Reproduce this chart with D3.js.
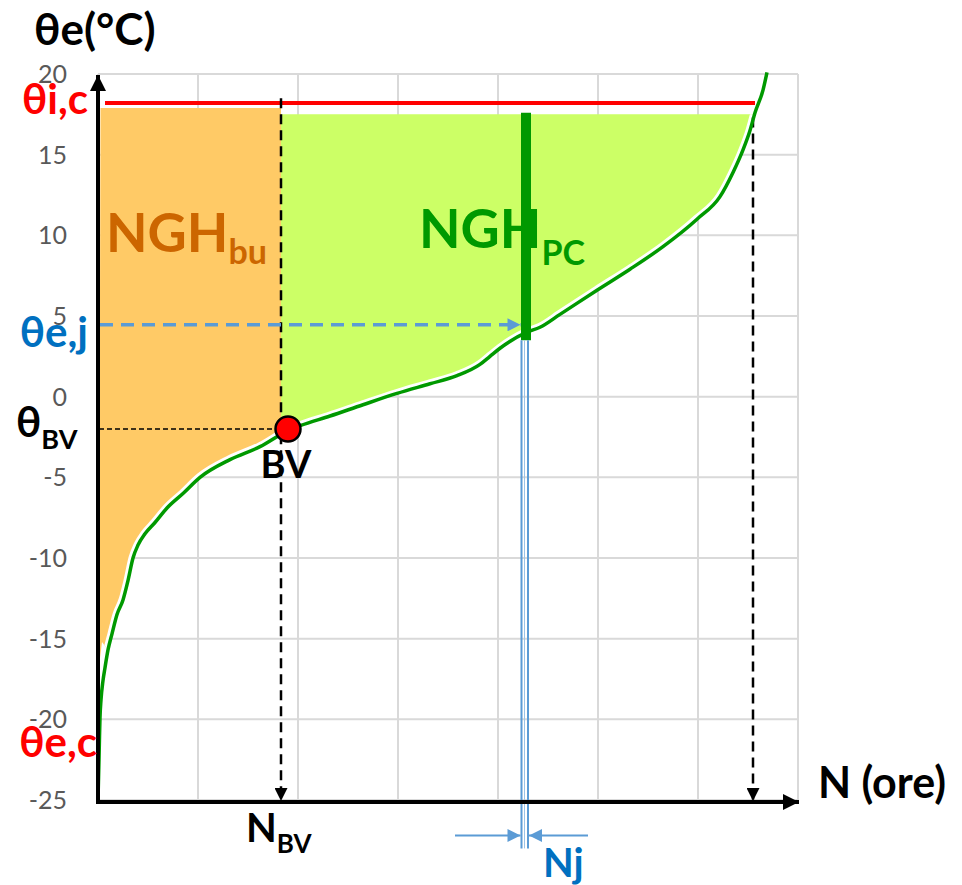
<!DOCTYPE html>
<html>
<head>
<meta charset="utf-8">
<script src="https://cdn.jsdelivr.net/npm/d3@7"></script>
<style>
  body { margin: 0; background: #fff; }
  svg { display: block; font-family: Lato, "Open Sans", sans-serif; font-weight: bold; }
</style>
</head>
<body>
<script>
// Size of the svg
var width = 962;
var height = 885;

// Cumulative duration curve: hours N against outdoor temperature θe
var hours = [0, 10, 15, 20, 30, 50, 70, 100, 140, 190, 250, 300, 350, 400, 470,
             570, 690, 850, 1020, 1320, 1620, 1900, 2020, 2320, 2650, 2990, 3320,
             3590, 3820, 3920, 4020, 4290, 4420, 4620, 4990, 5320, 5650, 5990,
             6220, 6350, 6450, 6520, 6570, 6650, 6690];
var temps = [-25, -22.5, -21.1, -19.9, -18.8, -17.6, -16.8, -15.7, -14.7, -13.5,
             -12.6, -11.4, -10, -9.2, -8.5, -7.8, -6.9, -6, -5, -3.9, -3.1, -2.1,
             -1.8, -1.2, -0.5, 0.2, 0.8, 1.3, 2, 2.5, 3, 4, 4.3, 5.1, 6.6, 7.9,
             9.3, 11, 12.4, 13.9, 15.3, 16.5, 17.6, 19, 20.1];

// Tick labels on the temperature axis
var yTicks = [20, 15, 10, 5, 0, -5, -10, -15, -20, -25];
var xGrid = [0, 1000, 2000, 3000, 4000, 5000, 6000, 7000];

// Reference values
var thetaIC = 18.2;        // inside temperature line
var icSpan = [70, 6570];
var topBu = 17.9;          // top of NGH_bu area
var topPc = 17.5;          // top of NGH_pc area
var nBV = 1830;            // hours at balance point
var bvPoint = [1900, -2.0];
var nEnd = 6550;           // end of heating season
var thetaEJ = 4.45;        // bin temperature
var nJ = 4280;             // bin position
var barSpan = [17.6, 3.5];
var nJLines = [4235, 4300];
var nJArrowY = -27.2;
var nJArrowFrom = [3570, 4900];
var buTip = [10, -16.7];

var x = d3.scaleLinear().domain([0, 7000]).range([98, 798]);
var y = d3.scaleLinear().domain([-25, 20]).range([800, 74]);
var curveAt = d3.scaleLinear().domain(hours).range(temps);

var svg = d3.select("body").append("svg")
    .attr("width", width)
    .attr("height", height);

var defs = svg.append("defs");
function marker(id, color, w, h) {
    defs.append("marker")
        .attr("id", id)
        .attr("viewBox", "0 0 10 10")
        .attr("refX", 10).attr("refY", 5)
        .attr("markerUnits", "userSpaceOnUse")
        .attr("markerWidth", w).attr("markerHeight", h)
        .attr("orient", "auto")
        .append("path")
        .attr("d", "M0,0L10,5L0,10Z")
        .attr("fill", color);
}
marker("arrBlack", "#000", 15, 13);
marker("arrBlue", "#5B9BD5", 16, 13);
marker("arrAxis", "#000", 16, 18);

// grid
svg.append("g").selectAll("line.h")
    .data(yTicks).enter().append("line")
    .attr("x1", x(0)).attr("x2", x(7000))
    .attr("y1", function(d) { return y(d); })
    .attr("y2", function(d) { return y(d); })
    .attr("stroke", "#d9d9d9").attr("stroke-width", 2);
svg.append("g").selectAll("line.v")
    .data(xGrid).enter().append("line")
    .attr("x1", function(d) { return x(d); })
    .attr("x2", function(d) { return x(d); })
    .attr("y1", y(20)).attr("y2", y(-25))
    .attr("stroke", "#d9d9d9").attr("stroke-width", 2);

// tick labels
svg.append("g").selectAll("text")
    .data(yTicks).enter().append("text")
    .attr("x", 67)
    .attr("y", function(d) { return y(d); })
    .attr("dy", "0.36em")
    .attr("text-anchor", "end")
    .style("font-weight", "normal")
    .style("font-size", "25px")
    .attr("fill", "#595959")
    .text(function(d) { return d; });

var pts = hours.map(function(h, i) { return [h, temps[i]]; });
var poly = d3.line()
    .x(function(d) { return x(d[0]); })
    .y(function(d) { return y(d[1]); });

// NGH_bu area (orange), ends in a thin tip along the axis
var buPts = [[25, topBu], [nBV, topBu], [nBV, curveAt(nBV)]];
pts.slice().reverse().forEach(function(p) {
    if (p[0] < nBV && p[1] >= -15.7) buPts.push(p);
});
buPts.push([40, -15.2]);
buPts.push(buTip);

// NGH_pc area (green)
var pcPts = [[nBV, topPc], [6560, topPc]];
pts.slice().reverse().forEach(function(p) {
    if (p[0] > nBV && p[0] < 6560) pcPts.push(p);
});
pcPts.push([nBV, curveAt(nBV)]);

defs.append("clipPath").attr("id", "fillClip")
    .selectAll("path").data([buPts, pcPts]).enter().append("path")
    .attr("d", function(d) { return poly(d) + "Z"; });

svg.append("path").attr("d", poly(buPts) + "Z").attr("fill", "#FFCA66");
svg.append("path").attr("d", poly(pcPts) + "Z").attr("fill", "#CCFF66");

var curveLine = d3.line()
    .x(function(d) { return x(d[0]); })
    .y(function(d) { return y(d[1]); })
    .curve(d3.curveMonotoneX);

// white gap between the areas and the curve
svg.append("g").attr("clip-path", "url(#fillClip)")
    .append("path")
    .attr("d", curveLine(pts))
    .attr("fill", "none")
    .attr("stroke", "#fff")
    .attr("stroke-width", 9);

// θi,c line
svg.append("line")
    .attr("x1", x(icSpan[0])).attr("x2", x(icSpan[1]))
    .attr("y1", y(thetaIC)).attr("y2", y(thetaIC))
    .attr("stroke", "#FF0000").attr("stroke-width", 4);

// dashed guides
svg.append("line")
    .attr("x1", x(nBV)).attr("x2", x(nBV))
    .attr("y1", y(18.5)).attr("y2", y(-25) + 1)
    .attr("stroke", "#000").attr("stroke-width", 2.5)
    .attr("stroke-dasharray", "10,6")
    .attr("marker-end", "url(#arrBlack)");
svg.append("line")
    .attr("x1", x(nEnd)).attr("x2", x(nEnd))
    .attr("y1", y(17.3)).attr("y2", y(-25) + 1)
    .attr("stroke", "#000").attr("stroke-width", 2.5)
    .attr("stroke-dasharray", "10,6")
    .attr("marker-end", "url(#arrBlack)");
svg.append("line")
    .attr("x1", x(10)).attr("x2", x(bvPoint[0]))
    .attr("y1", y(bvPoint[1])).attr("y2", y(bvPoint[1]))
    .attr("stroke", "#000").attr("stroke-width", 1.5)
    .attr("stroke-dasharray", "5,3");
svg.append("line")
    .attr("x1", x(20)).attr("x2", x(nJ - 55))
    .attr("y1", y(thetaEJ)).attr("y2", y(thetaEJ))
    .attr("stroke", "#5B9BD5").attr("stroke-width", 3.5)
    .attr("stroke-dasharray", "13,8")
    .attr("marker-end", "url(#arrBlue)");

// duration curve
svg.append("path")
    .attr("d", curveLine(pts))
    .attr("fill", "none")
    .attr("stroke", "#009900")
    .attr("stroke-width", 3.5);

// bin bar and its width lines
svg.append("line")
    .attr("x1", x(nJ)).attr("x2", x(nJ))
    .attr("y1", y(barSpan[0])).attr("y2", y(barSpan[1]))
    .attr("stroke", "#009900").attr("stroke-width", 10);
svg.append("g").selectAll("line")
    .data(nJLines).enter().append("line")
    .attr("x1", function(d) { return x(d); })
    .attr("x2", function(d) { return x(d); })
    .attr("y1", y(barSpan[1])).attr("y2", y(-28))
    .attr("stroke", "#5B9BD5").attr("stroke-width", 2);
svg.append("line")
    .attr("x1", x(nJLines[0] + 30)).attr("x2", x(nJLines[0] + 30))
    .attr("y1", y(barSpan[1])).attr("y2", y(-28))
    .attr("stroke", "#9DC3E6").attr("stroke-width", 1);
svg.append("line")
    .attr("x1", x(nJArrowFrom[0])).attr("x2", x(nJLines[0]) - 1)
    .attr("y1", y(nJArrowY)).attr("y2", y(nJArrowY))
    .attr("stroke", "#5B9BD5").attr("stroke-width", 2)
    .attr("marker-end", "url(#arrBlue)");
svg.append("line")
    .attr("x1", x(nJArrowFrom[1])).attr("x2", x(nJLines[1]) + 1)
    .attr("y1", y(nJArrowY)).attr("y2", y(nJArrowY))
    .attr("stroke", "#5B9BD5").attr("stroke-width", 2)
    .attr("marker-end", "url(#arrBlue)");

// balance point
svg.append("circle")
    .attr("cx", x(bvPoint[0])).attr("cy", y(bvPoint[1]))
    .attr("r", 12.5)
    .attr("fill", "#FF0000")
    .attr("stroke", "#000").attr("stroke-width", 2.5);

// axes with arrows
svg.append("line")
    .attr("x1", x(0)).attr("x2", x(0))
    .attr("y1", y(-25) + 4).attr("y2", y(20) + 1)
    .attr("stroke", "#000").attr("stroke-width", 4)
    .attr("marker-end", "url(#arrAxis)");
svg.append("line")
    .attr("x1", x(0) - 2).attr("x2", x(7000) + 1)
    .attr("y1", y(-25) + 2).attr("y2", y(-25) + 2)
    .attr("stroke", "#000").attr("stroke-width", 4)
    .attr("marker-end", "url(#arrAxis)");

// labels
function label(px, py, size, color, main, sub, anchor, subSize, subDy) {
    var t = svg.append("text")
        .attr("x", px).attr("y", py)
        .attr("text-anchor", anchor || "start")
        .attr("fill", color)
        .style("font-size", size + "px");
    t.append("tspan").text(main);
    if (sub) {
        t.append("tspan")
            .attr("dy", subDy)
            .style("font-size", subSize + "px")
            .text(sub);
    }
    return t;
}
label(34, 45, 44, "#000", "θe(°C)");
label(88, 114, 42, "#FF0000", "θi,c", null, "end");
label(88, 347, 42, "#0070C0", "θe,j", null, "end");
label(97, 757, 42, "#FF0000", "θe,c", null, "end");
label(16, 437, 42, "#000", "θ", "BV", "start", 27, 12);
label(286, 478, 38, "#000", "BV", null, "middle");
label(106, 252, 54, "#CC6600", "NGH", "bu", "start", 34, 12);
label(419, 248, 54, "#009900", "NGH", "PC", "start", 34, 17);
label(818, 798, 43, "#000", "N (ore)");
label(246, 842, 40, "#000", "N", "BV", "start", 26, 11);
label(543, 877, 40, "#0070C0", "Nj");
</script>
</body>
</html>
